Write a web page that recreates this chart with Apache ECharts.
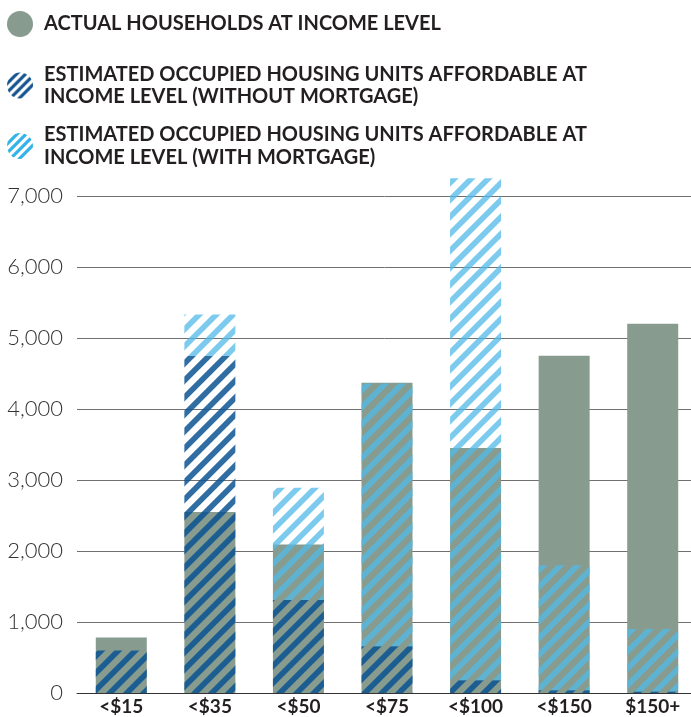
<!DOCTYPE html>
<html><head><meta charset="utf-8">
<script src="https://cdn.jsdelivr.net/npm/echarts@6/dist/echarts.min.js"></script>
<style>html,body{margin:0;padding:0;background:#fff}#c{width:691px;height:717px}</style>
</head><body><div id="c"></div>
<script>
const categories = ['<$15', '<$35', '<$50', '<$75', '<$100', '<$150', '$150+'];
const actualHouseholds = [780, 2550, 2090, 4370, 3450, 4750, 5200];
const unitsWithoutMortgage = [600, 4750, 1310, 660, 180, 40, 20];
const unitsWithMortgage = [0, 580, 1580, 3700, 7070, 1760, 880];
const yTickValues = [0, 1000, 2000, 3000, 4000, 5000, 6000, 7000];
const seriesNames = [
  'ACTUAL HOUSEHOLDS AT INCOME LEVEL',
  'ESTIMATED OCCUPIED HOUSING UNITS AFFORDABLE AT INCOME LEVEL (WITHOUT MORTGAGE)',
  'ESTIMATED OCCUPIED HOUSING UNITS AFFORDABLE AT INCOME LEVEL (WITH MORTGAGE)'
];

function hatch(r, g, b, a, period, width) {
  const c = document.createElement('canvas');
  c.width = period; c.height = period;
  const ctx = c.getContext('2d');
  const img = ctx.createImageData(period, period);
  const S = 4;
  for (let y = 0; y < period; y++) {
    for (let x = 0; x < period; x++) {
      let cov = 0;
      for (let sy = 0; sy < S; sy++) for (let sx = 0; sx < S; sx++) {
        const t = ((x + (sx + 0.5) / S) + (y + (sy + 0.5) / S)) % period;
        if (t < width) cov++;
      }
      cov /= S * S;
      const i = (y * period + x) * 4;
      img.data[i] = r; img.data[i + 1] = g; img.data[i + 2] = b;
      img.data[i + 3] = Math.round(255 * a * cov);
    }
  }
  ctx.putImageData(img, 0, 0);
  return { image: c, repeat: 'repeat' };
}

const darkHatch = hatch(10, 84, 147, 0.85, 17, 8);
const lightHatch = hatch(80, 186, 232, 0.75, 17, 8);
const darkHatchIcon = hatch(20, 84, 145, 1, 9, 4.5);
const lightHatchIcon = hatch(50, 180, 232, 1, 9, 4.5);
const grayColor = '#879b8f';

const FONT = 'Lato';
const legendText = {
  fontFamily: FONT, fontSize: 20, fontWeight: 'bold', color: '#231f20',
  lineHeight: 22.5, padding: [0, 0, 0, 6]
};
const fmtLegend = n => (n.length > 40 ? n.replace(' AT INCOME', ' AT\nINCOME') : n);

const chart = echarts.init(document.getElementById('c'), null, { renderer: 'canvas' });
chart.setOption({
  animation: false,
  backgroundColor: '#fff',
  legend: [
    { left: 2, top: 6, orient: 'vertical', icon: 'circle', itemWidth: 26, itemHeight: 26,
      selectedMode: false, textStyle: legendText, formatter: fmtLegend,
      data: [{ name: seriesNames[0], itemStyle: { color: grayColor } }] },
    { left: 2, top: 58, orient: 'vertical', icon: 'circle', itemWidth: 26, itemHeight: 26,
      selectedMode: false, textStyle: legendText, formatter: fmtLegend,
      data: [{ name: seriesNames[1], itemStyle: { color: darkHatchIcon } }] },
    { left: 2, top: 118.5, orient: 'vertical', icon: 'circle', itemWidth: 26, itemHeight: 26,
      selectedMode: false, textStyle: legendText, formatter: fmtLegend,
      data: [{ name: seriesNames[2], itemStyle: { color: lightHatchIcon } }] }
  ],
  grid: { left: 77, width: 620, top: 178.25, bottom: 24, containLabel: false, outerBoundsMode: 'none' },
  xAxis: {
    type: 'category', data: categories,
    axisTick: { show: false },
    axisLine: { show: true, lineStyle: { color: '#333', width: 1 } },
    axisLabel: { fontFamily: FONT, fontSize: 19, fontWeight: 'bold', color: '#231f20', margin: 4 }
  },
  yAxis: {
    type: 'value', min: 0, max: 7250, interval: 1000,
    axisLine: { show: false }, axisTick: { show: false },
    axisLabel: {
      fontFamily: FONT, fontSize: 22, fontWeight: 300, color: '#333', margin: 14,
      formatter: v => (yTickValues.indexOf(v) >= 0 ? v.toLocaleString('en-US') : '')
    },
    splitLine: { show: true, showMaxLine: false,
      lineStyle: { color: ['#707070','#707070','#707070','#707070','#707070','#707070','#707070','#707070','rgba(0,0,0,0)'], width: 1 } }
  },
  series: [
    { name: seriesNames[0], type: 'bar', data: actualHouseholds, barWidth: 51, barGap: '-100%',
      itemStyle: { color: grayColor } },
    { name: seriesNames[1], type: 'bar', stack: 'units', data: unitsWithoutMortgage, barWidth: 51, barGap: '-100%',
      itemStyle: { color: darkHatch } },
    { name: seriesNames[2], type: 'bar', stack: 'units', data: unitsWithMortgage, barWidth: 51, barGap: '-100%',
      itemStyle: { color: lightHatch } }
  ]
});
</script></body></html>
